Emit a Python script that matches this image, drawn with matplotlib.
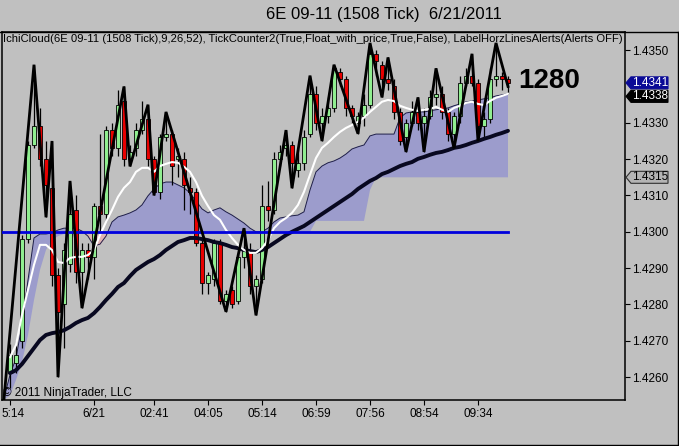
import matplotlib
matplotlib.use("Agg")
import matplotlib.pyplot as plt
import numpy as np
from matplotlib.patches import Polygon
from matplotlib.lines import Line2D
from matplotlib.transforms import IdentityTransform, ScaledTranslation

plt.rcParams['font.family'] = ['Liberation Sans', 'DejaVu Sans']

# ---- data ----
title = "6E 09-11 (1508 Tick)  6/21/2011"
indicators = ("IchiCloud(6E 09-11 (1508 Tick),9,26,52), TickCounter2(True,Float_with_price,"
              "True,False), LabelHorzLinesAlerts(Alerts OFF)")
tick_count = "1280"
copyright_txt = "\u00a9 2011 NinjaTrader, LLC"

opens = [1.4261, 1.4264, 1.4270, 1.4298, 1.4324, 1.4329, 1.4320, 1.4312, 1.4288, 1.4280,
         1.4291, 1.4306, 1.4289, 1.4295, 1.4293, 1.4307, 1.4305, 1.4328, 1.4323, 1.4336,
         1.4320, 1.4323, 1.4328, 1.4331, 1.4320, 1.4311, 1.4326, 1.4327, 1.4320, 1.4320,
         1.4312, 1.4311, 1.4297, 1.4286, 1.4287, 1.4297, 1.4281, 1.4284, 1.4281, 1.4293,
         1.4295, 1.4285, 1.4287, 1.4307, 1.4306, 1.4320, 1.4323, 1.4324, 1.4317, 1.4319,
         1.4327, 1.4338, 1.4330, 1.4332, 1.4334, 1.4344, 1.4342, 1.4334, 1.4330, 1.4332,
         1.4335, 1.4349, 1.4346, 1.4342, 1.4340, 1.4333, 1.4326, 1.4330, 1.4333, 1.4330,
         1.4332, 1.4337, 1.4338, 1.4333, 1.4327, 1.4332, 1.4341, 1.4343, 1.4341, 1.4329,
         1.4331, 1.4342, 1.4343, 1.4342]
highs = [1.4269, 1.4270, 1.4299, 1.4325, 1.4346, 1.4334, 1.4325, 1.4325, 1.4290, 1.4297,
         1.4314, 1.4310, 1.4297, 1.4297, 1.4308, 1.4327, 1.4329, 1.4330, 1.4339, 1.4340,
         1.4324, 1.4330, 1.4336, 1.4335, 1.4321, 1.4327, 1.4333, 1.4328, 1.4323, 1.4322,
         1.4315, 1.4312, 1.4298, 1.4289, 1.4298, 1.4298, 1.4284, 1.4285, 1.4294, 1.4301,
         1.4297, 1.4288, 1.4313, 1.4314, 1.4322, 1.4324, 1.4328, 1.4325, 1.4323, 1.4328,
         1.4343, 1.4340, 1.4334, 1.4337, 1.4346, 1.4345, 1.4343, 1.4335, 1.4333, 1.4338,
         1.4352, 1.4350, 1.4347, 1.4348, 1.4342, 1.4334, 1.4331, 1.4336, 1.4337, 1.4334,
         1.4339, 1.4345, 1.4340, 1.4334, 1.4333, 1.4343, 1.4345, 1.4349, 1.4342, 1.4333,
         1.4345, 1.4352, 1.4344, 1.4343]
lows = [1.4257, 1.4261, 1.4268, 1.4297, 1.4323, 1.4318, 1.4304, 1.4285, 1.4260, 1.4268,
        1.4289, 1.4286, 1.4279, 1.4287, 1.4287, 1.4300, 1.4303, 1.4321, 1.4321, 1.4318,
        1.4318, 1.4321, 1.4327, 1.4318, 1.4310, 1.4309, 1.4325, 1.4313, 1.4315, 1.4306,
        1.4305, 1.4296, 1.4283, 1.4283, 1.4285, 1.4280, 1.4278, 1.4279, 1.4280, 1.4290,
        1.4283, 1.4277, 1.4286, 1.4303, 1.4305, 1.4318, 1.4321, 1.4312, 1.4315, 1.4317,
        1.4326, 1.4328, 1.4325, 1.4330, 1.4333, 1.4340, 1.4332, 1.4330, 1.4327, 1.4329,
        1.4334, 1.4343, 1.4337, 1.4339, 1.4331, 1.4324, 1.4322, 1.4329, 1.4328, 1.4322,
        1.4331, 1.4335, 1.4331, 1.4325, 1.4323, 1.4330, 1.4340, 1.4340, 1.4325, 1.4326,
        1.4330, 1.4340, 1.4339, 1.4338]
closes = [1.4266, 1.4266, 1.4298, 1.4324, 1.4329, 1.4320, 1.4313, 1.4288, 1.4278, 1.4295,
          1.4305, 1.4289, 1.4295, 1.4293, 1.4307, 1.4305, 1.4328, 1.4323, 1.4335, 1.4320,
          1.4322, 1.4328, 1.4331, 1.4320, 1.4311, 1.4326, 1.4327, 1.4318, 1.4321, 1.4313,
          1.4311, 1.4297, 1.4286, 1.4288, 1.4297, 1.4281, 1.4283, 1.4280, 1.4293, 1.4295,
          1.4285, 1.4287, 1.4307, 1.4306, 1.4320, 1.4322, 1.4324, 1.4319, 1.4319, 1.4326,
          1.4338, 1.4330, 1.4332, 1.4334, 1.4345, 1.4342, 1.4334, 1.4332, 1.4332, 1.4335,
          1.4349, 1.4347, 1.4342, 1.4341, 1.4333, 1.4325, 1.4330, 1.4333, 1.4330, 1.4332,
          1.4337, 1.4338, 1.4333, 1.4327, 1.4332, 1.4341, 1.4343, 1.4341, 1.4329, 1.4331,
          1.4342, 1.4343, 1.4342, 1.4341]

# conversion line (white) and base line (thick dark)
tenkan = [1.42655, 1.42688, 1.42771, 1.42840, 1.42909, 1.42964, 1.42964, 1.42950, 1.42917, 1.42914,
          1.42928, 1.42931, 1.42931, 1.42936, 1.42950, 1.42991, 1.43027, 1.43060, 1.43096, 1.43121,
          1.43137, 1.43165, 1.43176, 1.43176, 1.43165, 1.43181, 1.43187, 1.43192, 1.43190, 1.43179,
          1.43165, 1.43137, 1.43099, 1.43071, 1.43046, 1.43033, 1.43005, 1.42983, 1.42964, 1.42950,
          1.42942, 1.42942, 1.42955, 1.42977, 1.43010, 1.43027, 1.43038, 1.43052, 1.43074, 1.43110,
          1.43157, 1.43203, 1.43231, 1.43245, 1.43261, 1.43275, 1.43286, 1.43294, 1.43303, 1.43314,
          1.43330, 1.43344, 1.43358, 1.43363, 1.43360, 1.43347, 1.43341, 1.43336, 1.43333, 1.43336,
          1.43338, 1.43344, 1.43336, 1.43330, 1.43341, 1.43347, 1.43355, 1.43358, 1.43352, 1.43349,
          1.43360, 1.43369, 1.43374, 1.43380]
kijun = [1.42611, 1.42619, 1.42636, 1.42658, 1.42680, 1.42702, 1.42716, 1.42721, 1.42724, 1.42729,
         1.42738, 1.42749, 1.42757, 1.42763, 1.42776, 1.42793, 1.42812, 1.42829, 1.42848, 1.42859,
         1.42878, 1.42895, 1.42906, 1.42917, 1.42925, 1.42936, 1.42950, 1.42961, 1.42972, 1.42977,
         1.42983, 1.42983, 1.42980, 1.42977, 1.42972, 1.42969, 1.42964, 1.42958, 1.42955, 1.42950,
         1.42947, 1.42944, 1.42950, 1.42958, 1.42969, 1.42980, 1.42991, 1.43000, 1.43008, 1.43016,
         1.43027, 1.43038, 1.43049, 1.43060, 1.43071, 1.43082, 1.43093, 1.43104, 1.43118, 1.43129,
         1.43140, 1.43148, 1.43159, 1.43165, 1.43173, 1.43181, 1.43187, 1.43192, 1.43201, 1.43206,
         1.43212, 1.43217, 1.43220, 1.43225, 1.43231, 1.43234, 1.43239, 1.43245, 1.43250, 1.43256,
         1.43261, 1.43267, 1.43272, 1.43278]

# cloud spans, starting one bar before the first candle
span_a = [1.42542, 1.42606, 1.42652, 1.42743, 1.42867, 1.42983, 1.42994, 1.42994, 1.42997, 1.43005,
          1.43010, 1.43010, 1.43010, 1.43002, 1.42988, 1.42961, 1.42966, 1.42988, 1.43027, 1.43041,
          1.43046, 1.43052, 1.43060, 1.43074, 1.43099, 1.43118, 1.43132, 1.43137, 1.43137, 1.43129,
          1.43121, 1.43107, 1.43085, 1.43063, 1.43052, 1.43060, 1.43066, 1.43055, 1.43046, 1.43035,
          1.43024, 1.43010, 1.43000, 1.43000, 1.43010, 1.43027, 1.43038, 1.43041, 1.43044, 1.43046,
          1.43055, 1.43115, 1.43165, 1.43181, 1.43190, 1.43195, 1.43203, 1.43214, 1.43228, 1.43234,
          1.43239, 1.43264, 1.43269, 1.43269, 1.43269, 1.43269, 1.43314, 1.43327, 1.43330, 1.43330,
          1.43330, 1.43333, 1.43336, 1.43338, 1.43341, 1.43347, 1.43352, 1.43358, 1.43360, 1.43363,
          1.43366, 1.43369, 1.43374, 1.43377, 1.43380]
span_b = [1.42537, 1.42550, 1.42592, 1.42641, 1.42716, 1.42812, 1.42895, 1.42950, 1.42977, 1.42988,
          1.42994, 1.42994, 1.42994, 1.42994, 1.42994, 1.42994, 1.42994, 1.42994, 1.42994, 1.42994,
          1.42994, 1.42994, 1.42994, 1.42994, 1.42994, 1.42994, 1.42994, 1.42994, 1.42994, 1.42994,
          1.42994, 1.42994, 1.42994, 1.42994, 1.42994, 1.42994, 1.42994, 1.42994, 1.42994, 1.42994,
          1.42994, 1.42994, 1.4300, 1.4300, 1.4300, 1.4300, 1.4300, 1.4300, 1.4300, 1.4300,
          1.4300, 1.4300, 1.4303, 1.4303, 1.4303, 1.4303, 1.4303, 1.4303, 1.4303, 1.4303,
          1.4303, 1.43115, 1.4315, 1.4315, 1.4315, 1.4315, 1.4315, 1.4315, 1.4315, 1.4315,
          1.4315, 1.4315, 1.4315, 1.4315, 1.4315, 1.4315, 1.4315, 1.4315, 1.4315, 1.4315,
          1.4315, 1.4315, 1.4315, 1.4315, 1.4315]

# swing line through highs / lows
zz_idx = [-1, 4, 6, 7, 8, 10, 12, 19, 20, 23, 24, 26, 36, 39, 41, 46, 47, 50, 52, 54,
          58, 60, 62, 63, 66, 68, 69, 71, 74, 77, 78, 81, 83]
zz_px = [1.4254, 1.4346, 1.4304, 1.4325, 1.4260, 1.4314, 1.4279, 1.4340, 1.4318, 1.4335,
         1.4310, 1.4333, 1.4278, 1.4301, 1.4277, 1.4328, 1.4312, 1.4343, 1.4325, 1.4346,
         1.4327, 1.4352, 1.4337, 1.4348, 1.4322, 1.4337, 1.4322, 1.4345, 1.4323, 1.4349,
         1.4325, 1.4352, 1.4340]

time_pos = [0, 14, 24, 33, 42, 51, 60, 69, 78]
time_labels = ['5:14', '6/21', '02:41', '04:05', '05:14', '06:59', '07:56', '08:54', '09:34']
price_ticks = [1.4260, 1.4270, 1.4280, 1.4290, 1.4300, 1.4310, 1.4320, 1.4330, 1.4350]
hline_price = 1.4300

# ---- figure ----
W, H = 679, 446
bg = '#c0c0c0'
fig = plt.figure(figsize=(W / 100, H / 100), dpi=100, facecolor=bg)
ax = fig.add_axes([2 / W, 46 / H, 623 / W, 368 / H])
ax.set_facecolor(bg)

x = np.arange(len(closes))
xc = np.arange(-1, len(span_a) - 1)
sa = np.array(span_a)
sb = np.array(span_b)

ax.fill_between(xc, sa, sb, where=sa >= sb, interpolate=True, color='#9c9ccc', lw=0, zorder=1)
ax.fill_between(xc, sa, sb, where=sa < sb, interpolate=True, color='#e2b4b4', lw=0, zorder=1)
ax.plot(xc, sa, color='#1e1e48', lw=0.7, zorder=1.5)

o = np.array(opens); c = np.array(closes)
up = c >= o
body_lo = np.minimum(o, c)
body_h = np.maximum(np.abs(c - o), 0.00004)
ax.vlines(x, lows, highs, color='black', lw=0.9, zorder=2)
ax.bar(x, body_h, bottom=body_lo, width=0.82,
       color=np.where(up, '#90ee90', '#e80000'), edgecolor='black', linewidth=0.6, zorder=3)

ax.plot(x, kijun, color='#080820', lw=2.8, zorder=4, solid_capstyle='round')
ax.plot(x, tenkan, color='white', lw=1.5, zorder=4.5)
ax.plot([-1.4, x[-1]], [hline_price, hline_price], color='#0000dd', lw=2.0, zorder=5)
ax.plot(zz_idx, zz_px, color='black', lw=2.0, zorder=6, solid_joinstyle='miter')

ax.set_xlim(-1.33, 102.5)
ax.set_ylim(1.42537, 1.43550)

ax.yaxis.tick_right()
ax.set_yticks(price_ticks)
ax.set_yticklabels(['%.4f' % p for p in price_ticks])
ax.set_xticks(time_pos)
ax.set_xticklabels(time_labels)
ax.tick_params(axis='y', direction='out', length=3.6, width=0.8, labelsize=8.5, pad=1.5, colors='black')
ax.tick_params(axis='x', direction='out', length=3.6, width=0.8, labelsize=8.5, pad=2.5, colors='black')
# first time label sits against the left edge
first = ax.get_xticklabels()[0]
first.set_transform(first.get_transform() + ScaledTranslation(3 / 100, 0, fig.dpi_scale_trans))
for s in ax.spines.values():
    s.set_linewidth(1.1)
    s.set_color('black')

# texts
fig.text(384 / W, 1 - 14 / H, title, ha='center', va='center', fontsize=12)
fig.text(3 / W, 1 - 39.5 / H, indicators, ha='left', va='center', fontsize=8.1)
fig.text(549 / W, 1 - 81 / H, tick_count, ha='center', va='center', fontsize=20, weight='bold')
fig.text(3 / W, 1 - 393 / H, copyright_txt, ha='left', va='center', fontsize=8.5)

# price markers on the right axis
def price_tag(yc, text, face, edge, color):
    pts = [(626, yc), (631, yc + 6), (668, yc + 6), (668, yc - 6), (631, yc - 6)]
    fig.add_artist(Polygon(pts, closed=True, transform=IdentityTransform(),
                           facecolor=face, edgecolor=edge, linewidth=0.8, zorder=10))
    fig.text(650 / W, yc / H, text, ha='center', va='center', fontsize=8.5, color=color, zorder=11)

def ypix(p):
    return ax.transData.transform((0, p))[1]

y_last = ypix(closes[-1])
y_ten = ypix(tenkan[-1])
if y_last - y_ten < 13:
    y_ten = y_last - 13.5
price_tag(y_last, '%.4f' % closes[-1], '#0a0a96', '#0a0a96', 'white')
price_tag(y_ten, '%.4f' % tenkan[-1], 'black', 'black', 'white')
price_tag(ypix(span_b[-1]), '%.4f' % span_b[-1], '#b4b4b4', '#303030', 'black')

# window frame
fig.add_artist(Line2D([677.5 / W, 677.5 / W], [1 / H, 414 / H], color='black', lw=1, transform=fig.transFigure))
fig.add_artist(Line2D([0, 678 / W], [1.2 / H, 1.2 / H], color='black', lw=1, transform=fig.transFigure))
fig.add_artist(Line2D([0, 678 / W], [414 / H, 414 / H], color='black', lw=1, transform=fig.transFigure))

fig.savefig('out.png', dpi=100, facecolor=bg)
